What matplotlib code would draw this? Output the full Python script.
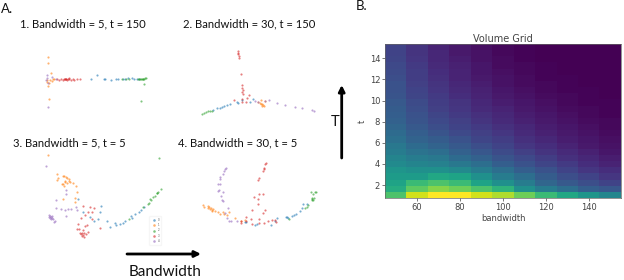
import numpy as np
import matplotlib
matplotlib.use('Agg')
import matplotlib.pyplot as plt

plt.rcParams['font.family'] = ['Lato', 'DejaVu Sans']

W, H = 624, 280
colors = ['#1f77b4', '#ff7f0e', '#2ca02c', '#d62728', '#9467bd']

# scatter points (x, y), one list per cluster
p1 = [
    [(182,88),(200,75),(222,87),(226,88),(243,89),(258,87),(264,86),(278,87),(285,87),(295,83),(305,83),(312,87),(320,88),(328,87)],
    [(53,22),(53,40),(62,68),(58,146),(55,107),(60,90),(52,95),(65,92),(50,90),(57,100),(72,86),(68,88)],
    [(275,88),(288,88),(298,87),(325,88),(328,88),(330,87),(333,87),(335,87),(338,86),(340,86),(343,86),(345,85),(347,85),(342,103),(332,152)],
    [(80,88),(86,89),(92,88),(98,89),(102,87),(104,88),(105,87),(107,88),(108,88),(110,90),(113,88),(118,88),(122,89),(128,88),(133,89),(142,88),(150,87),(118,84)],
    [(50,75),(53,171),(52,85),(48,90),(65,80),(55,98),(78,86)],
]
p2 = [
    [(70,195),(82,190),(90,188),(97,185),(103,183),(110,180),(120,178),(140,172),(143,175),(180,172),(155,165),(190,162)],
    [(205,170),(210,174),(213,176),(216,178),(219,180),(222,182),(225,168),(213,165),(216,182)],
    [(35,206),(42,203),(48,201),(55,199),(60,198),(65,197)],
    [(143,18),(144,23),(145,28),(146,33),(147,38),(153,86),(155,120),(157,128),(160,135),(156,140),(160,148),(157,162),(172,158),(178,150),(131,165),(155,170),(168,170)],
    [(195,168),(205,170),(225,168),(237,164),(262,174),(285,181),(315,186),(335,190),(365,194),(373,197)],
]
p3 = [
    [(115,147),(130,185),(182,168),(181,185),(150,200),(163,212),(174,207),(200,212),(210,232),(226,220),(228,225),(241,221),(248,220),(255,212),(272,198),(275,205),(285,193),(297,185),(303,180),(312,170)],
    [(24,15),(51,72),(53,85),(52,90),(68,78),(72,77),(78,80),(82,85),(86,88),(90,96),(76,95),(80,100),(70,102),(72,108),(66,102),(100,100),(107,108),(110,125),(106,143),(104,155),(70,148),(88,92),(74,92)],
    [(357,25),(362,118),(355,125),(350,130),(345,138),(338,142),(333,150),(328,158),(325,162),(310,172),(268,208),(330,148),(352,128)],
    [(130,168),(150,171),(163,173),(145,185),(155,185),(136,195),(122,205),(157,208),(115,221),(135,227),(140,225),(118,238),(110,238),(180,233),(130,240),(122,253),(126,258),(130,256),(120,250),(132,250),(138,252),(127,248),(133,260),(144,245)],
    [(19,47),(79,133),(78,120),(49,151),(47,173),(62,177),(74,181),(84,176),(94,176),(108,170),(112,181),(77,199),(27,195),(30,197),(33,200),(28,202),(35,204),(32,206),(40,208),(44,213),(42,215),(36,198),(30,205)],
]
p4 = [
    [(150,202),(180,210),(228,210),(245,190),(275,185),(280,188),(290,182),(297,180),(303,178),(315,168),(322,158),(325,148),(335,148),(240,198),(272,187),(185,208),(153,200)],
    [(23,150),(27,155),(38,153),(42,155),(46,162),(50,165),(55,163),(60,167),(70,172),(75,178),(85,170),(88,178),(95,180),(102,172),(120,190),(137,198),(150,195),(48,160),(52,168),(40,160)],
    [(348,110),(360,112),(364,110),(355,118),(352,128),(357,128),(350,135),(355,135),(335,155),(340,150),(330,158),(283,193),(352,132)],
    [(213,24),(210,27),(207,38),(206,43),(205,47),(193,68),(190,76),(205,117),(193,117),(177,127),(190,132),(190,148),(170,165),(210,165),(204,175),(153,186),(168,193),(138,198),(138,203),(192,193),(218,197),(232,195),(241,195),(242,200),(207,203),(193,205),(152,198),(172,207)],
    [(92,38),(90,42),(88,47),(84,58),(76,66),(75,71),(70,88),(74,86),(72,105),(68,108),(85,112),(78,123),(80,135),(85,138),(100,160),(90,175),(95,188),(103,198),(107,197),(125,197)],
]
panels = [(p1, (30, 50, 130, 65)), (p2, (190, 45, 130, 75)), (p3, (40, 150, 130, 90)), (p4, (195, 155, 130, 80))]

# volume grid, bottom row (t=1) first
bandwidth = [50, 60, 70, 80, 90, 100, 110, 120, 130, 140, 150]
vol_50 = [.72,.62,.58,.55,.52,.48,.45,.42,.40,.37,.35,.33,.31,.30,.29,.28,.26,.25,.25,.24,.23,.22,.21,.20,.20]
vol_60 = [.93,.75,.68,.55,.50,.45,.42,.38,.35,.32,.30,.28,.26,.25,.24,.23,.21,.20,.19,.18,.18,.17,.16,.15,.15]
vol_70 = [1.0,.82,.72,.60,.50,.44,.40,.36,.32,.29,.26,.24,.22,.21,.19,.18,.17,.16,.15,.14,.13,.12,.11,.11,.10]
vol_80 = [1.0,.78,.68,.58,.47,.40,.35,.31,.28,.25,.22,.20,.19,.17,.16,.15,.13,.12,.11,.10,.10,.09,.08,.07,.07]
vol_90 = [.93,.72,.58,.50,.42,.36,.31,.27,.24,.21,.19,.17,.15,.14,.12,.11,.10,.09,.08,.07,.06,.06,.05,.05,.04]
vol_100 = [.88,.65,.50,.42,.36,.30,.26,.23,.20,.18,.16,.14,.12,.11,.10,.08,.07,.06,.05,.05,.04,.03,.03,.02,.02]
vol_110 = [.78,.50,.42,.36,.30,.25,.22,.19,.16,.14,.12,.11,.09,.08,.07,.06,.05,.04,.03,.03,.02,.02,.01,.01,.01]
vol_120 = [.68,.42,.33,.29,.25,.21,.18,.15,.13,.11,.09,.08,.07,.06,.05,.04,.03,.02,.02,.01,.01,.01,.0,.0,.0]
vol_130 = [.60,.36,.28,.24,.20,.17,.14,.12,.10,.08,.07,.06,.05,.04,.03,.02,.02,.01,.01,.01,.0,.0,.0,.0,.0]
vol_140 = [.52,.30,.24,.20,.16,.13,.11,.09,.07,.06,.05,.04,.03,.02,.02,.01,.01,.01,.0,.0,.0,.0,.0,.0,.0]
vol_150 = [.46,.27,.20,.16,.13,.10,.08,.06,.05,.04,.03,.02,.02,.01,.01,.01,.0,.0,.0,.0,.0,.0,.0,.0,.0]
volume = np.array([vol_50, vol_60, vol_70, vol_80, vol_90, vol_100, vol_110, vol_120, vol_130, vol_140, vol_150]).T


def rect(x, y, w, h):
    return [x / W, 1 - (y + h) / H, w / W, h / H]


fig = plt.figure(figsize=(W / 100, H / 100), dpi=100)

for idx, (pts, box) in enumerate(panels):
    ax = fig.add_axes(rect(*box))
    ax.set_xlim(0, box[2] * 3)
    ax.set_ylim(box[3] * 3, 0)
    ax.axis('off')
    for i, cluster in enumerate(pts):
        xs = [c[0] for c in cluster]
        ys = [c[1] for c in cluster]
        ax.scatter(xs, ys, s=2.4, color=colors[i], alpha=0.6, linewidths=0, label=str(i))
    if idx == 2:
        ax.legend(loc='upper left', bbox_to_anchor=(328 / 390, 1 - 198 / 270), fontsize=2,
                  markerscale=1.2, frameon=True, framealpha=0.5, borderpad=0.6, labelspacing=0.5,
                  handletextpad=0.5, borderaxespad=0, edgecolor='#eeeeee', labelcolor='#555555')

# heatmap
ax = fig.add_axes(rect(385, 44, 236, 154))
ax.imshow(volume, origin='lower', aspect='auto', cmap='viridis', vmin=0, vmax=1,
          extent=[45, 155, 0.77, 15.35], interpolation='nearest')
ax.set_xticks([60, 80, 100, 120, 140])
ax.set_yticks([2, 4, 6, 8, 10, 12, 14])
ax.tick_params(labelsize=6, length=2, width=0.5, pad=1.5, colors='#444444')
ax.set_xlabel('bandwidth', fontsize=6, color='#444444', labelpad=1.5, family='DejaVu Sans')
ax.set_ylabel('t', fontsize=6, color='#444444', labelpad=2, family='DejaVu Sans')
ax.set_title('Volume Grid', fontsize=7, color='#444444', pad=1.5, family='DejaVu Sans')
for lab in ax.get_xticklabels() + ax.get_yticklabels():
    lab.set_family('DejaVu Sans')
for s in ax.spines.values():
    s.set_linewidth(0.5)
    s.set_color('#666666')


def label(x, y, s, size, ha='left'):
    fig.text(x / W, 1 - y / H, s, fontsize=size, ha=ha, va='center', color='#111111')


label(1, 9, 'A.', 9.5)
label(356, 6, 'B.', 9.5)
label(20, 24, '1. Bandwidth = 5, t = 150', 8.1)
label(183, 24, '2. Bandwidth = 30, t = 150', 8.1)
label(13, 143, '3. Bandwidth = 5, t = 5', 8.1)
label(178, 143, '4. Bandwidth = 30, t = 5', 8.1)
label(165, 272, 'Bandwidth', 11, ha='center')
label(335, 122, 'T', 10.5, ha='center')

# arrows
ov = fig.add_axes([0, 0, 1, 1])
ov.set_xlim(0, W)
ov.set_ylim(H, 0)
ov.axis('off')
ov.patch.set_alpha(0)
ov.annotate('', xy=(201, 254), xytext=(127, 254),
            arrowprops=dict(arrowstyle='-|>', color='black', lw=2, mutation_scale=9, shrinkA=0, shrinkB=0))
ov.annotate('', xy=(341.7, 85), xytext=(341.7, 158),
            arrowprops=dict(arrowstyle='-|>', color='black', lw=2, mutation_scale=9, shrinkA=0, shrinkB=0))

fig.savefig('out.png', dpi=100)
